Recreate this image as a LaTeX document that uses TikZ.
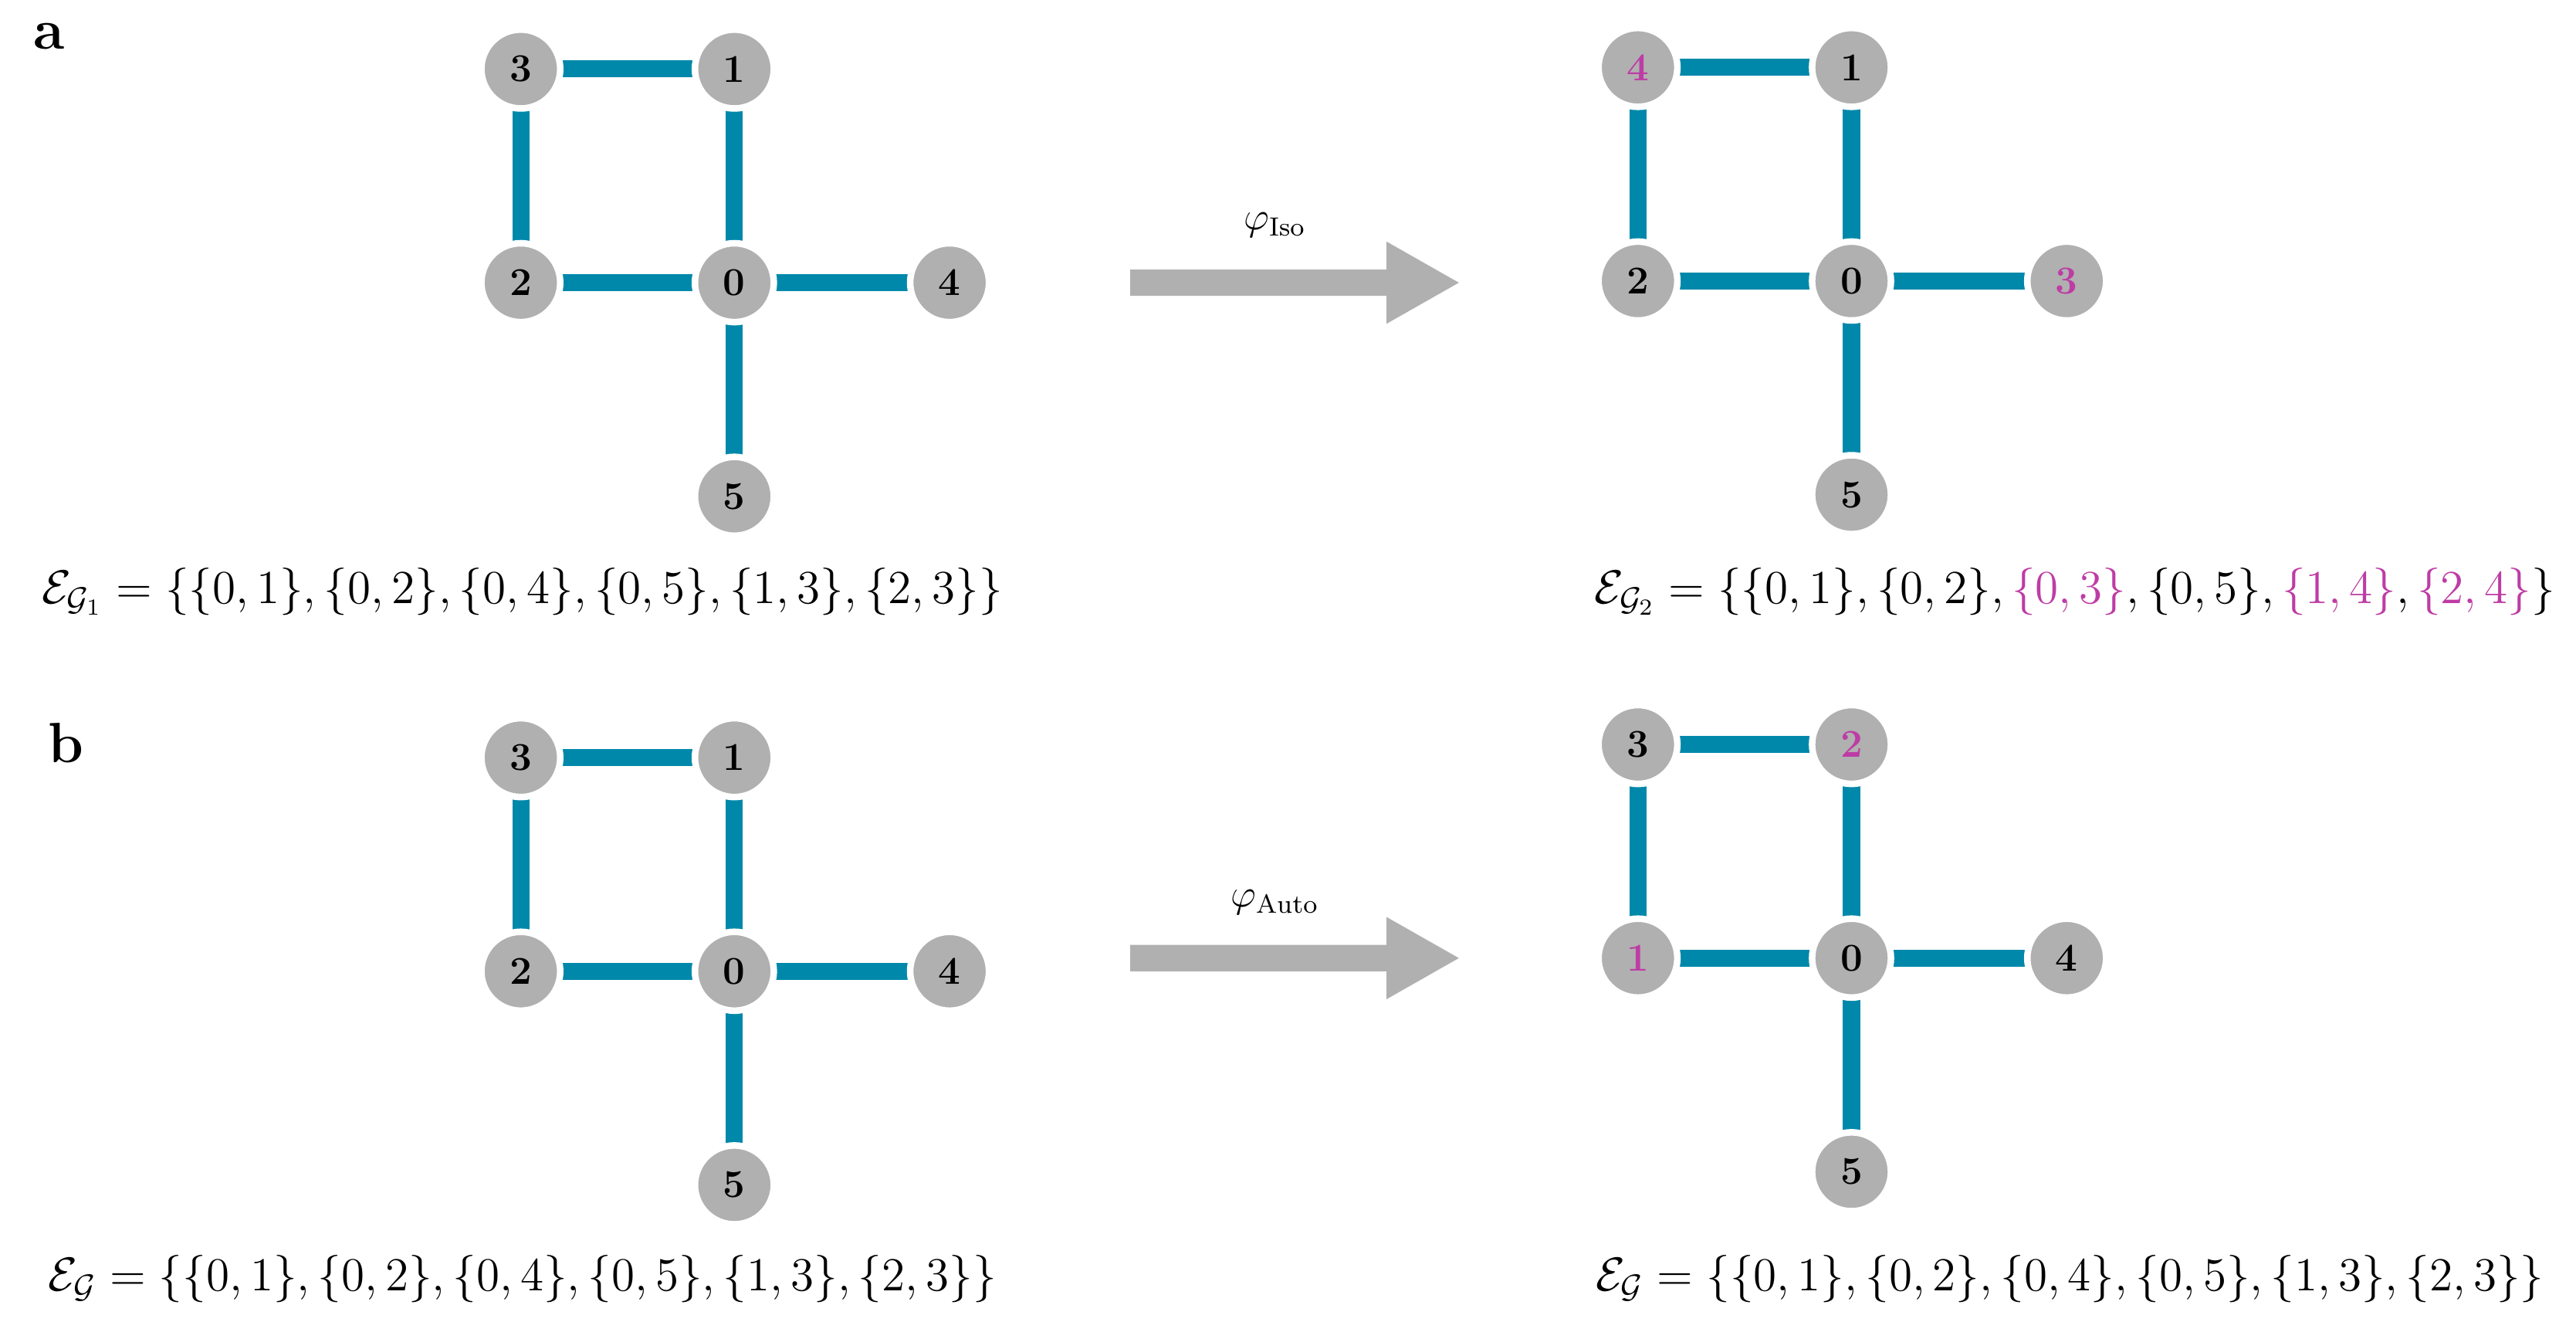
\documentclass[tikz,border=0pt]{standalone}
\usepackage{amsmath}
\begin{document}
\definecolor{teal1}{RGB}{0,136,170}
\definecolor{gr}{RGB}{176,176,176}
\definecolor{mag}{RGB}{190,60,165}
\begin{tikzpicture}[x=0.5pt,y=-0.5pt,
  nd/.style={circle,fill=gr,draw=white,line width=2pt,minimum size=24pt,inner sep=0pt,font=\large\bfseries},
  ed/.style={teal1,line width=5.2pt},
  ar/.style={fill=gr,draw=none},
  lab/.style={font=\LARGE\bfseries}]
\useasboundingbox (0,0) rectangle (1568,804);
\newcommand{\mygraph}[8]{%
  \begin{scope}[shift={(#1,#2)}]
  \draw[ed] (0,0) -- (130,0) (0,0) -- (0,130) (0,130) -- (130,130) (130,0) -- (130,130) (130,130) -- (261,130) (130,130) -- (130,260);
  \node[nd] (#3-a) at (0,0) {#4};
  \node[nd] (#3-b) at (130,0) {#5};
  \node[nd] (#3-c) at (0,130) {#6};
  \node[nd] (#3-d) at (130,130) {0};
  \node[nd] (#3-e) at (261,130) {#7};
  \node[nd] (#3-f) at (130,260) {#8};
  \end{scope}}
\mygraph{317}{42}{A}{3}{1}{2}{4}{5}
\mygraph{997}{41}{B}{\textcolor{mag}{4}}{1}{2}{\textcolor{mag}{3}}{5}
\mygraph{317}{461}{C}{3}{1}{2}{4}{5}
\mygraph{997}{453}{D}{3}{\textcolor{mag}{2}}{\textcolor{mag}{1}}{4}{5}
\node[lab] (la) at (30,22) {a};
\node[lab] (lb) at (40,452) {b};
\fill[ar] (688,164) -- (844,164) -- (844,147) -- (888,172) -- (844,197) -- (844,180) -- (688,180) -- cycle;
\fill[ar] (688,575) -- (844,575) -- (844,558) -- (888,583) -- (844,608) -- (844,591) -- (688,591) -- cycle;
\node[font=\large] (pa) at (776,137) {$\varphi_{\mathrm{Iso}}$};
\node[font=\large] (pb) at (776,549) {$\varphi_{\mathrm{Auto}}$};
\node[font=\Large] (fa) at (318,360) {$\mathcal{E}_{\mathcal{G}_1}=\{\{0,1\},\{0,2\},\{0,4\},\{0,5\},\{1,3\},\{2,3\}\}$};
\node[font=\Large] (fb) at (1263,360) {$\mathcal{E}_{\mathcal{G}_2}=\{\{0,1\},\{0,2\},\textcolor{mag}{\{0,3\}},\{0,5\},\textcolor{mag}{\{1,4\}},\textcolor{mag}{\{2,4\}}\}$};
\node[font=\Large] (fc) at (318,778) {$\mathcal{E}_{\mathcal{G}}=\{\{0,1\},\{0,2\},\{0,4\},\{0,5\},\{1,3\},\{2,3\}\}$};
\node[font=\Large] (fd) at (1260,778) {$\mathcal{E}_{\mathcal{G}}=\{\{0,1\},\{0,2\},\{0,4\},\{0,5\},\{1,3\},\{2,3\}\}$};
\end{tikzpicture}
\end{document}
